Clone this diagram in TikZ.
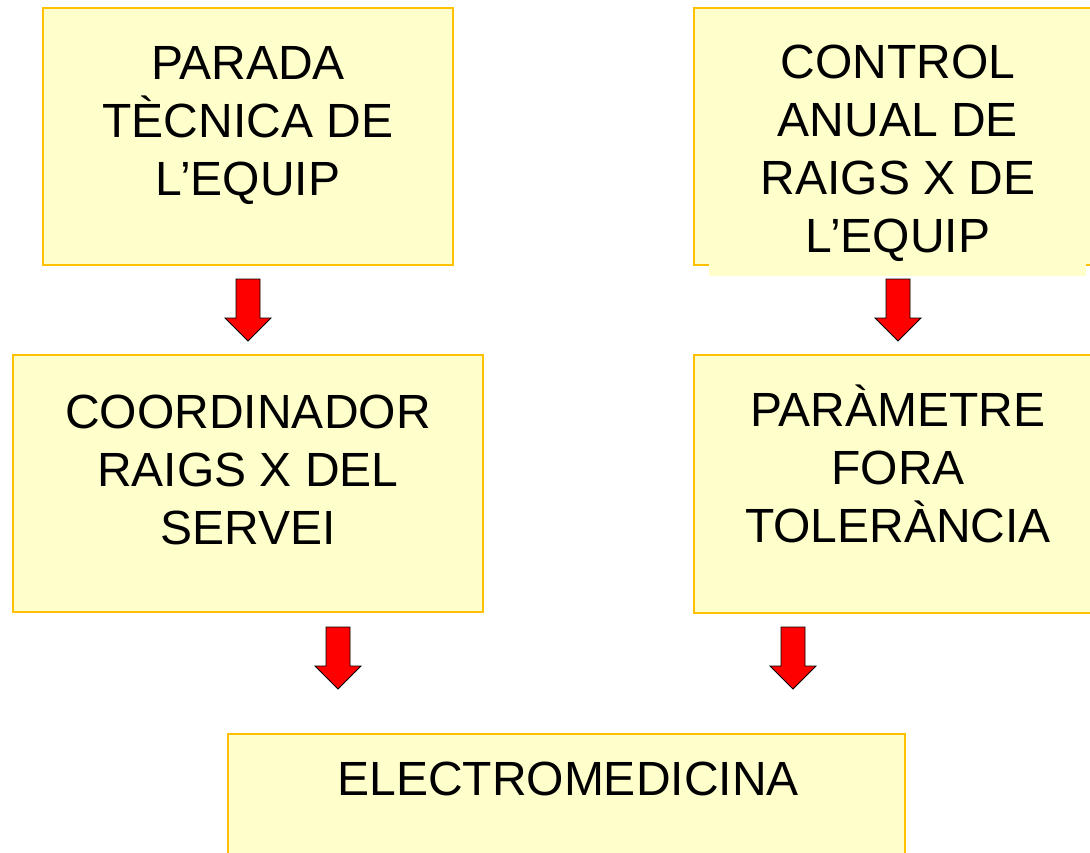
\documentclass[tikz,border=0pt]{standalone}
\usepackage{fontspec}
\setmainfont{Liberation Sans}
\usetikzlibrary{positioning}
\definecolor{boxfill}{HTML}{FFFFCC}
\definecolor{boxline}{HTML}{FFC000}
\tikzset{
  box/.style={draw=boxline, fill=boxfill, line width=1.8pt, inner sep=0pt},
  lbl/.style={anchor=north, align=center, inner sep=0pt, font=\fontsize{48}{58}\selectfont},
  blockarrow/.pic={\filldraw[fill=red, draw=black, line width=0.8pt]
      (-12,0) -- (12,0) -- (12,39) -- (23,39) -- (0,62) -- (-23,39) -- (-12,39) -- cycle;}
}
\begin{document}
\begin{tikzpicture}[x=1pt, y=-1pt]
    \useasboundingbox (0,0) rectangle (1090,852);
    \clip (0,0) rectangle (1090,852);
    % boxes
    \node[box, minimum width=410pt, minimum height=257pt] (parada) at (248,136.5) {};
    \node[box, minimum width=400pt, minimum height=257pt] (control) at (894,136.5) {};
    \fill[boxfill] (709,262) rectangle (1086,276);
    \node[box, minimum width=470pt, minimum height=257pt] (coord) at (248,483.5) {};
    \node[box, minimum width=400pt, minimum height=258pt] (param) at (894,484) {};
    \node[box, minimum width=677pt, minimum height=140pt] (electro) at (566.5,804) {};
    % texts
    \node[lbl] (paradatxt) at (248,46) {PARADA\\TÈCNICA DE\\L’EQUIP};
    \node[lbl] (controltxt) at (898,45) {CONTROL\\ANUAL DE\\RAIGS X DE\\L’EQUIP};
    \node[lbl] (coordtxt) at (248,395) {COORDINADOR\\RAIGS X DEL\\SERVEI};
    \node[lbl] (paramtxt) at (898,385) {PARÀMETRE\\FORA\\TOLERÀNCIA};
    \node[lbl] (electrotxt) at (568,762) {ELECTROMEDICINA};
    % arrows
    \pic at (248,279) {blockarrow};
    \pic at (898,279) {blockarrow};
    \pic at (338,627) {blockarrow};
    \pic at (793,627) {blockarrow};
\end{tikzpicture}
\end{document}
